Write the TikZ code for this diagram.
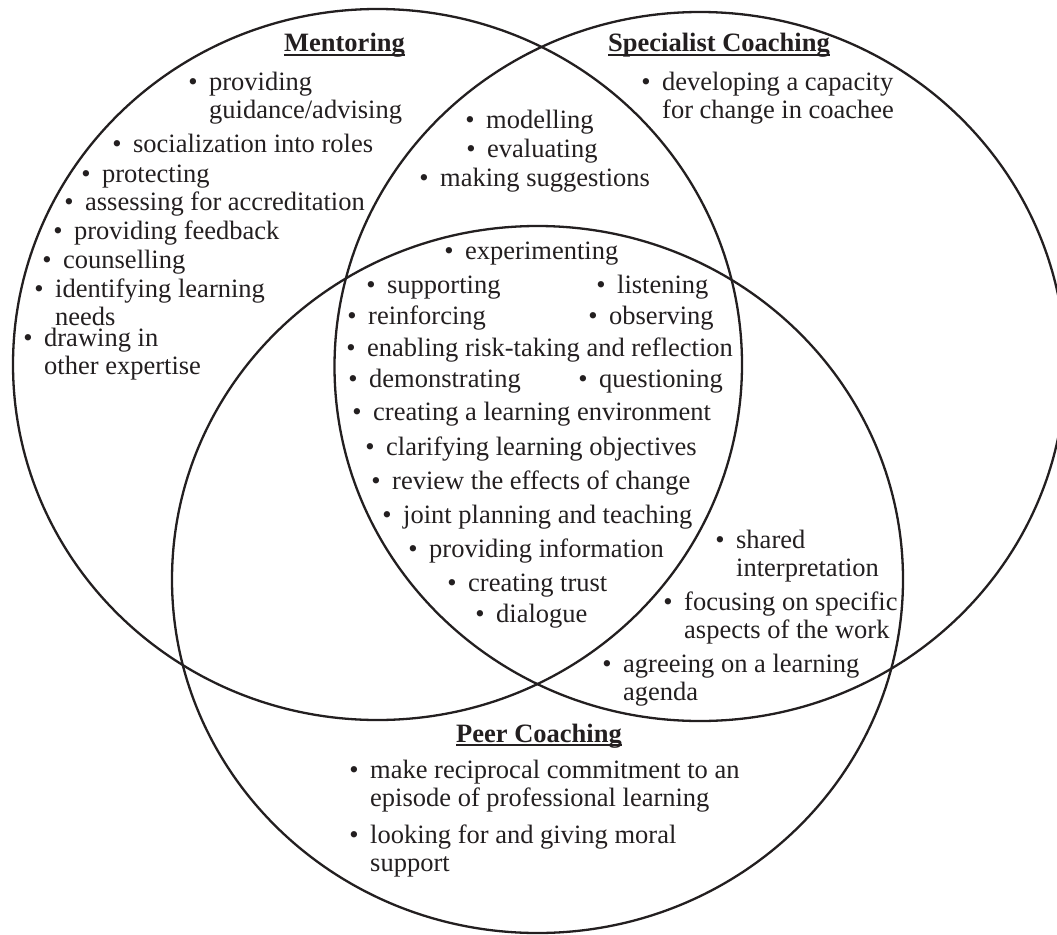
\documentclass[tikz,border=0pt]{standalone}
\usepackage{fontspec}
\setmainfont{Liberation Serif}
\definecolor{ink}{RGB}{35,31,32}
\newcommand{\bl}{\llap{\textbullet\hspace{11.5pt}}}
\newcommand{\lines}[1]{\begin{tabular}[t]{@{}l@{}}#1\end{tabular}}
\tikzset{
  itm/.style={anchor=base west, inner sep=0pt, text=ink},
  head/.style={anchor=base, inner sep=0pt, text=ink, font=\fontsize{26.5}{28.5}\selectfont\bfseries},
  ring/.style={draw=ink, line width=2.3pt},
  uline/.style={draw=ink, line width=2pt}
}
\begin{document}
\begin{tikzpicture}[x=1pt, y=-1pt, font=\fontsize{26.5}{28.5}\selectfont]
\clip (0,0) rectangle (1057,934);
\fill[white] (0,0) rectangle (1057,934);
% circles
\draw[ring] (377.5,364.5) ellipse [x radius=364.5pt, y radius=355.5pt];
\draw[ring] (700,366.5) ellipse [x radius=365.5pt, y radius=354.5pt];
\draw[ring] (537.5,579.5) ellipse [x radius=365.5pt, y radius=353.5pt];
% headings
\node[head] (hm) at (344.5,52) {Mentoring};
\node[head] (hs) at (719,52) {Specialist Coaching};
\node[head] (hp) at (539,742) {Peer Coaching};
\draw[uline] ([yshift=-3pt]hm.base west) -- ([yshift=-3pt]hm.base east);
\draw[uline] ([yshift=-3pt]hs.base west) -- ([yshift=-3pt]hs.base east);
\draw[uline] ([yshift=-3pt]hp.base west) -- ([yshift=-3pt]hp.base east);
% mentoring
\node[itm] (m1) at (209,90) {\lines{\bl providing\\guidance/advising}};
\node[itm] (m2) at (133,152) {\lines{\bl socialization into roles}};
\node[itm] (m3) at (102,182) {\lines{\bl protecting}};
\node[itm] (m4) at (85,210) {\lines{\bl assessing for accreditation}};
\node[itm] (m5) at (74,239) {\lines{\bl providing feedback}};
\node[itm] (m6) at (63,268) {\lines{\bl counselling}};
\node[itm] (m7) at (55,297) {\lines{\bl identifying learning\\needs}};
\node[itm] (m8) at (44,346) {\lines{\bl drawing in\\other expertise}};
% mentoring + specialist
\node[itm] (s1) at (486,128) {\lines{\bl modelling}};
\node[itm] (s2) at (487,157) {\lines{\bl evaluating}};
\node[itm] (s3) at (440,186) {\lines{\bl making suggestions}};
% specialist
\node[itm] (s4) at (662,90) {\lines{\bl developing a capacity\\for change in coachee}};
% centre
\node[itm] (c1) at (465,259) {\lines{\bl experimenting}};
\node[itm] (c2) at (387,293) {\lines{\bl supporting}};
\node[itm] (c3) at (617,293) {\lines{\bl listening}};
\node[itm] (c4) at (368,324) {\lines{\bl reinforcing}};
\node[itm] (c5) at (609,324) {\lines{\bl observing}};
\node[itm] (c6) at (367,356) {\lines{\bl enabling risk-taking and reflection}};
\node[itm] (c7) at (369,387) {\lines{\bl demonstrating}};
\node[itm] (c8) at (599,387) {\lines{\bl questioning}};
\node[itm] (c9) at (373,420) {\lines{\bl creating a learning environment}};
\node[itm] (c10) at (386,455) {\lines{\bl clarifying learning objectives}};
\node[itm] (c11) at (392,489) {\lines{\bl review the effects of change}};
\node[itm] (c12) at (403,523) {\lines{\bl joint planning and teaching}};
\node[itm] (c13) at (429,557) {\lines{\bl providing information}};
\node[itm] (c14) at (468,591) {\lines{\bl creating trust}};
\node[itm] (c15) at (496,622) {\lines{\bl dialogue}};
% specialist + peer
\node[itm] (p1) at (736,548) {\lines{\bl shared\\interpretation}};
\node[itm] (p2) at (684,610) {\lines{\bl focusing on specific\\aspects of the work}};
\node[itm] (p3) at (623,672) {\lines{\bl agreeing on a learning\\agenda}};
% peer
\node[itm] (p4) at (370,778) {\lines{\bl make reciprocal commitment to an\\episode of professional learning}};
\node[itm] (p5) at (370,843) {\lines{\bl looking for and giving moral\\support}};
\end{tikzpicture}
\end{document}
